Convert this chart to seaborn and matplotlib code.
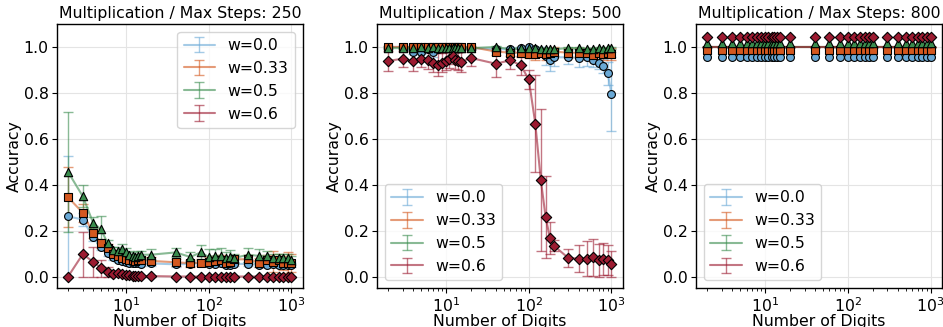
import numpy as np
import pandas as pd
import matplotlib
matplotlib.use("Agg")
import matplotlib.pyplot as plt
import matplotlib.transforms as mtransforms
import seaborn as sns

# ---------------- data ----------------
digits = [2, 3, 4, 5, 6, 7, 8, 9, 10, 11, 12, 13, 14, 15, 20, 40, 60, 80, 100,
          120, 140, 160, 180, 200, 300, 400, 500, 600, 700, 800, 900, 1000]
weights = ["w=0.0", "w=0.33", "w=0.5", "w=0.6"]
max_steps = [250, 500, 800]

# Max steps 250
acc250_w00 = [0.262, 0.248, 0.170, 0.130, 0.103, 0.085, 0.072, 0.068, 0.065, 0.060, 0.058, 0.058, 0.057, 0.055, 0.057, 0.053,
              0.055, 0.058, 0.055, 0.055, 0.057, 0.050, 0.052, 0.055, 0.055, 0.050, 0.052, 0.055, 0.052, 0.050, 0.050, 0.050]
err250_w00 = [0.262, 0.030, 0.015, 0.015, 0.012, 0.012, 0.010, 0.010, 0.015, 0.010, 0.010, 0.010, 0.010, 0.010, 0.010, 0.010,
              0.010, 0.010, 0.010, 0.010, 0.010, 0.010, 0.010, 0.010, 0.010, 0.010, 0.010, 0.010, 0.010, 0.010, 0.010, 0.010]
acc250_w033 = [0.345, 0.278, 0.188, 0.145, 0.125, 0.100, 0.090, 0.080, 0.075, 0.070, 0.070, 0.068, 0.070, 0.072, 0.068, 0.062,
               0.058, 0.060, 0.065, 0.068, 0.072, 0.060, 0.065, 0.075, 0.075, 0.060, 0.070, 0.065, 0.070, 0.060, 0.060, 0.058]
err250_w033 = [0.130, 0.040, 0.020, 0.020, 0.015, 0.015, 0.015, 0.015, 0.015, 0.015, 0.015, 0.015, 0.015, 0.015, 0.015, 0.015,
               0.015, 0.015, 0.020, 0.020, 0.020, 0.020, 0.020, 0.020, 0.020, 0.020, 0.025, 0.045, 0.030, 0.030, 0.045, 0.040]
acc250_w05 = [0.455, 0.350, 0.235, 0.205, 0.145, 0.115, 0.110, 0.120, 0.105, 0.095, 0.090, 0.085, 0.090, 0.095, 0.095, 0.105,
              0.085, 0.105, 0.085, 0.090, 0.090, 0.080, 0.085, 0.080, 0.095, 0.090, 0.090, 0.080, 0.080, 0.080, 0.080, 0.070]
err250_w05 = [0.260, 0.048, 0.025, 0.058, 0.015, 0.015, 0.020, 0.020, 0.020, 0.015, 0.015, 0.015, 0.020, 0.015, 0.025, 0.020,
              0.020, 0.032, 0.035, 0.030, 0.035, 0.025, 0.030, 0.020, 0.030, 0.030, 0.020, 0.020, 0.020, 0.020, 0.020, 0.020]
acc250_w06 = [0.000, 0.097, 0.065, 0.037, 0.020, 0.012, 0.015, 0.010, 0.008, 0.005, 0.004, 0.003, 0.002, 0.002, 0.002, 0.000,
              0.000, 0.000, 0.000, 0.000, 0.000, 0.000, 0.000, 0.000, 0.000, 0.000, 0.000, 0.000, 0.000, 0.000, 0.000, 0.000]
err250_w06 = [0.000, 0.097, 0.065, 0.037, 0.020, 0.010, 0.010, 0.008, 0.006, 0.005, 0.004, 0.003, 0.002, 0.002, 0.002, 0.000,
              0.000, 0.000, 0.000, 0.000, 0.000, 0.000, 0.000, 0.000, 0.000, 0.000, 0.000, 0.000, 0.000, 0.000, 0.000, 0.000]

# Max steps 500
acc500_w00 = [1.000, 1.000, 0.978, 0.978, 0.990, 0.978, 0.990, 0.995, 0.995, 0.995, 0.995, 0.995, 0.995, 0.995, 0.995, 0.990,
              0.990, 0.995, 0.998, 0.990, 0.980, 0.960, 0.945, 0.955, 0.955, 0.952, 0.955, 0.943, 0.932, 0.918, 0.885, 0.795]
err500_w00 = [0.005, 0.005, 0.010, 0.010, 0.010, 0.020, 0.010, 0.005, 0.005, 0.005, 0.005, 0.005, 0.005, 0.005, 0.005, 0.010,
              0.010, 0.005, 0.005, 0.010, 0.020, 0.040, 0.050, 0.040, 0.030, 0.040, 0.040, 0.030, 0.030, 0.030, 0.050, 0.160]
acc500_w033 = [1.000, 1.000, 1.000, 1.000, 1.000, 1.000, 1.000, 1.000, 1.000, 1.000, 1.000, 1.000, 1.000, 1.000, 1.000, 0.980,
               0.975, 0.975, 0.970, 0.970, 0.975, 0.970, 0.975, 0.980, 0.975, 0.975, 0.975, 0.965, 0.975, 0.970, 0.975, 0.970]
err500_w033 = [0.005, 0.005, 0.005, 0.005, 0.005, 0.005, 0.010, 0.005, 0.005, 0.005, 0.005, 0.005, 0.005, 0.005, 0.005, 0.015,
               0.015, 0.020, 0.020, 0.025, 0.020, 0.025, 0.020, 0.020, 0.020, 0.020, 0.020, 0.025, 0.020, 0.025, 0.020, 0.025]
acc500_w05 = [0.995, 0.995, 0.995, 0.998, 0.995, 0.998, 0.995, 0.995, 0.995, 0.995, 0.995, 0.995, 0.995, 0.995, 0.995, 1.000,
              0.990, 0.995, 0.995, 0.995, 0.990, 0.990, 0.990, 0.990, 0.995, 0.995, 0.990, 0.990, 0.995, 0.990, 0.995, 0.995]
err500_w05 = [0.005] * 32
acc500_w06 = [0.939, 0.949, 0.939, 0.949, 0.942, 0.932, 0.923, 0.932, 0.939, 0.949, 0.960, 0.945, 0.940, 0.935, 0.952, 0.927,
              0.942, 0.920, 0.859, 0.666, 0.419, 0.259, 0.169, 0.135, 0.081, 0.078, 0.078, 0.084, 0.070, 0.076, 0.071, 0.055]
err500_w06 = [0.045, 0.035, 0.045, 0.035, 0.040, 0.040, 0.050, 0.040, 0.040, 0.040, 0.035, 0.040, 0.040, 0.045, 0.035, 0.060,
              0.040, 0.040, 0.040, 0.210, 0.310, 0.180, 0.070, 0.025, 0.040, 0.058, 0.075, 0.080, 0.070, 0.070, 0.065, 0.055]

# Max steps 800
acc800_w00 = [1.0] * 32
acc800_w033 = [1.0] * 32
acc800_w05 = [1.0] * 32
acc800_w06 = [1.0] * 32
err800 = [0.0] * 32

acc = {
    250: [acc250_w00, acc250_w033, acc250_w05, acc250_w06],
    500: [acc500_w00, acc500_w033, acc500_w05, acc500_w06],
    800: [acc800_w00, acc800_w033, acc800_w05, acc800_w06],
}
err = {
    250: [err250_w00, err250_w033, err250_w05, err250_w06],
    500: [err500_w00, err500_w033, err500_w05, err500_w06],
    800: [err800, err800, err800, err800],
}

# ---------------- style ----------------
colors = ["#6aa9d6", "#d4581f", "#3a8d4e", "#9c1b31"]
markers = ["o", "s", "^", "D"]
msizes = [32, 32, 36, 28]
# vertical marker dodge (points) used where the curves coincide at 1.0
dodge_pts = {250: [0, 0, 0, 0], 500: [0, 0, 0, 0], 800: [-7.2, -2.2, 2.8, 7.2]}

FS = 11.3
sns.set_theme(style="ticks", rc={
    "axes.edgecolor": "black",
    "axes.linewidth": 1.0,
    "xtick.color": "black",
    "ytick.color": "black",
    "axes.labelcolor": "black",
    "text.color": "black",
    "font.size": FS,
    "axes.titlesize": FS,
    "axes.labelsize": FS,
    "xtick.labelsize": FS,
    "ytick.labelsize": FS,
    "legend.fontsize": FS,
})
plt.rcParams["font.family"] = ["DejaVu Sans"]

fig = plt.figure(figsize=(9.43, 3.27), dpi=100)
lefts = [0.0604, 0.3998, 0.7381]
W, B, H = 0.2605, 0.1193, 0.8073
axes = [fig.add_axes([l, B, W, H]) for l in lefts]

logd = np.log10(digits)
span = logd.max() - logd.min()
xlim = (10 ** (logd.min() - 0.05 * span), 10 ** (logd.max() + 0.05 * span))

for ax, steps in zip(axes, max_steps):
    ax.set_xscale("log")
    ax.grid(True, which="major", color="#e4e4e4", linewidth=0.8)
    ax.set_axisbelow(True)
    for i, (lab, c, m, s) in enumerate(zip(weights, colors, markers, msizes)):
        y = np.array(acc[steps][i])
        e = np.array(err[steps][i])
        lower = np.minimum(e, y)
        upper = e
        ax.errorbar(digits, y, yerr=[lower, upper], fmt="-", color=c, alpha=0.6,
                    lw=1.5, elinewidth=1.0, capsize=3.5, capthick=1.0, label=lab,
                    zorder=2 + i * 0.1)
        tr = mtransforms.offset_copy(ax.transData, fig=fig, x=0, y=dodge_pts[steps][i], units="points")
        df = pd.DataFrame({"digits": digits, "acc": y})
        sns.scatterplot(data=df, x="digits", y="acc", ax=ax, marker=m, s=s, color=c,
                        edgecolor="black", linewidth=0.8, legend=False, zorder=3 + i * 0.1,
                        transform=tr)
    ax.set_xscale("log")
    ax.set_xlim(*xlim)
    ax.set_ylim(-0.05, 1.1)
    ax.set_yticks([0.0, 0.2, 0.4, 0.6, 0.8, 1.0])
    ax.set_xlabel("Number of Digits", labelpad=-1)
    ax.set_ylabel("Accuracy", labelpad=1)
    ax.set_title(f"Multiplication / Max Steps: {steps}", pad=4)
    ax.tick_params(axis="both", which="major", length=3.5, width=0.8, pad=2.5, direction="out")
    ax.tick_params(axis="x", which="minor", length=2, width=0.6, bottom=True)
    for sp in ax.spines.values():
        sp.set_visible(True)
    loc = "upper right" if steps == 250 else "lower left"
    leg = ax.legend(loc=loc, frameon=True, fancybox=True, framealpha=0.8)
    leg.get_frame().set_edgecolor("#cccccc")

fig.savefig("out.png", dpi=100)
